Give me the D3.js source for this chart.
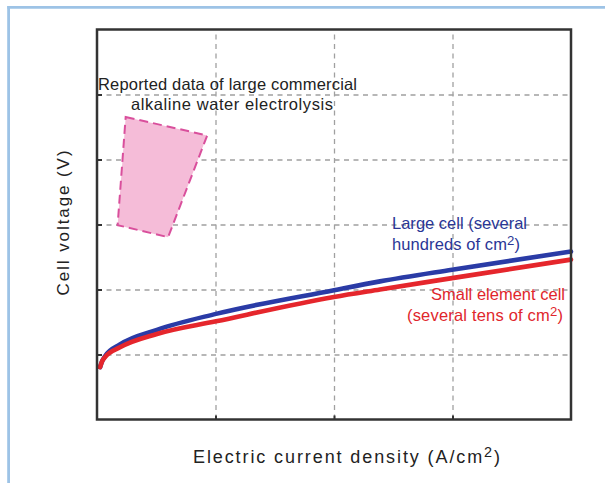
<!DOCTYPE html>
<html>
<head>
<meta charset="utf-8">
<script src="https://cdn.jsdelivr.net/npm/d3@7"></script>
<style>
  html, body { margin: 0; padding: 0; background: #ffffff; }
  svg { display: block; }
</style>
</head>
<body>
<svg id="chart" width="605" height="483"></svg>
<script>
// Current density (A/cm2) and cell voltage (V)
const currentDensity = [0.013, 0.021, 0.034, 0.097, 0.253, 0.502, 1.0, 1.194, 1.498, 2.0];
const largeCellVoltage = [1.361, 1.378, 1.395, 1.431, 1.476, 1.525, 1.598, 1.625, 1.661, 1.717];
const smallCellVoltage = [1.361, 1.378, 1.392, 1.422, 1.463, 1.502, 1.577, 1.600, 1.635, 1.692];

// Region of reported commercial alkaline electrolysers (corners: J, V)
const commercialJ = [0.121, 0.465, 0.300, 0.087];
const commercialV = [2.131, 2.074, 1.761, 1.798];

// Gridline positions
const xTicks = [0.5, 1.0, 1.5];
const yTicks = [1.4, 1.6, 1.8, 2.0, 2.2];

const svg = d3.select("#chart");

// Outer light-blue panel edge
svg.append("line").attr("x1", 7.3).attr("x2", 605).attr("y1", 7.3).attr("y2", 7.3)
  .attr("stroke", "#9dc3e6").attr("stroke-width", 2.8);
svg.append("line").attr("x1", 8.6).attr("x2", 8.6).attr("y1", 6).attr("y2", 483)
  .attr("stroke", "#9dc3e6").attr("stroke-width", 2.8);

const plot = { left: 97, top: 29.5, right: 571, bottom: 419.5 };
const W = plot.right - plot.left, H = plot.bottom - plot.top;

const x = d3.scaleLinear().domain([0, 2]).range([plot.left, plot.right]);
const y = d3.scaleLinear().domain([1.2, 2.4]).range([plot.bottom, plot.top]);

// Dashed grid
const grid = svg.append("g");
grid.append("g").attr("transform", `translate(0,${plot.bottom})`)
  .call(d3.axisBottom(x).tickValues(xTicks).tickSize(-H).tickFormat(""))
  .call(g => g.select(".domain").remove())
  .call(g => g.selectAll("line").attr("stroke", "#a0a0a0").attr("stroke-width", 1.3).attr("stroke-dasharray", "5,4.5"));
grid.append("g").attr("transform", `translate(${plot.left},0)`)
  .call(d3.axisLeft(y).tickValues(yTicks).tickSize(-W).tickFormat(""))
  .call(g => g.select(".domain").remove())
  .call(g => g.selectAll("line").attr("stroke", "#a0a0a0").attr("stroke-width", 1.3).attr("stroke-dasharray", "5,4.5"));

// Short inward ticks
svg.append("g").attr("transform", `translate(${plot.left},0)`)
  .call(d3.axisRight(y).tickValues(yTicks).tickSize(5).tickFormat(""))
  .call(g => g.select(".domain").remove())
  .call(g => g.selectAll("line").attr("stroke", "#333").attr("stroke-width", 2));
svg.append("g").attr("transform", `translate(0,${plot.bottom})`)
  .call(d3.axisTop(x).tickValues(xTicks).tickSize(4).tickFormat(""))
  .call(g => g.select(".domain").remove())
  .call(g => g.selectAll("line").attr("stroke", "#333").attr("stroke-width", 2));

// Commercial data region
const region = commercialJ.map((j, i) => [x(j), y(commercialV[i])]);
svg.append("path")
  .attr("d", d3.line()(region) + "Z")
  .attr("fill", "#f5bcd8")
  .attr("stroke", "#d94f9c")
  .attr("stroke-width", 2)
  .attr("stroke-dasharray", "9,5");

// Polarisation curves
const curve = d3.line().x(d => x(d[0])).y(d => y(d[1])).curve(d3.curveMonotoneX);
svg.append("path")
  .attr("d", curve(currentDensity.map((j, i) => [j, largeCellVoltage[i]])))
  .attr("fill", "none").attr("stroke", "#2a3ba6").attr("stroke-width", 4.6)
  .attr("stroke-linecap", "round");
svg.append("path")
  .attr("d", curve(currentDensity.map((j, i) => [j, smallCellVoltage[i]])))
  .attr("fill", "none").attr("stroke", "#e5262c").attr("stroke-width", 4.6)
  .attr("stroke-linecap", "round");

// Plot frame
svg.append("rect")
  .attr("x", plot.left).attr("y", plot.top).attr("width", W).attr("height", H)
  .attr("fill", "none").attr("stroke", "#333").attr("stroke-width", 2.5);

// Stretch a text element to a given width by adjusting letter spacing
function fit(t, width) {
  const node = t.node();
  const n = node.textContent.length;
  const natural = node.getComputedTextLength();
  t.attr("letter-spacing", ((width - natural) / Math.max(1, n - 1)).toFixed(3));
  return t;
}

function label(px, py, parts, opts) {
  const t = svg.append("text")
    .attr("x", px).attr("y", py)
    .attr("font-family", opts.family || "'Liberation Sans', Arial, sans-serif")
    .attr("font-size", opts.size)
    .attr("fill", opts.color || "#222")
    .attr("text-anchor", "start");
  let raised = 0;
  parts.forEach(p => {
    const s = t.append("tspan").text(p.text);
    if (p.sup) {
      raised = opts.size * 0.33;
      s.attr("font-size", opts.size * 0.8).attr("dy", -raised);
    } else if (raised) {
      s.attr("dy", raised);
      raised = 0;
    }
  });
  if (opts.width) fit(t, opts.width);
  return t;
}

const annFont = "'Liberation Sans', Arial, sans-serif";
label(98, 90, [{ text: "Reported data of large commercial" }], { size: 16.5, width: 259, color: "#222", family: annFont });
label(131, 110, [{ text: "alkaline water electrolysis" }], { size: 16.5, width: 202, color: "#222", family: annFont });

label(392, 229, [{ text: "Large cell (several" }], { size: 16.5, width: 135, color: "#2a3696", family: annFont });
label(392, 250, [{ text: "hundreds of cm" }, { text: "2", sup: true }, { text: ")" }], { size: 16.5, width: 128, color: "#2a3696", family: annFont });

label(431, 300, [{ text: "Small element cell" }], { size: 16.5, width: 134, color: "#e0262c", family: annFont });
label(407, 321, [{ text: "(several tens of cm" }, { text: "2", sup: true }, { text: ")" }], { size: 16.5, width: 156, color: "#e0262c", family: annFont });

// Axis titles
label(193, 463, [{ text: "Electric current density (A/cm" }, { text: "2", sup: true }, { text: ")" }],
  { size: 18, width: 307, color: "#222" });

const yt = svg.append("text")
  .attr("transform", `translate(69,222) rotate(-90)`)
  .attr("text-anchor", "middle")
  .attr("font-family", "'Liberation Sans', Arial, sans-serif")
  .attr("font-size", 17)
  .attr("fill", "#222")
  .text("Cell voltage (V)");
fit(yt, 145);
</script>
</body>
</html>
